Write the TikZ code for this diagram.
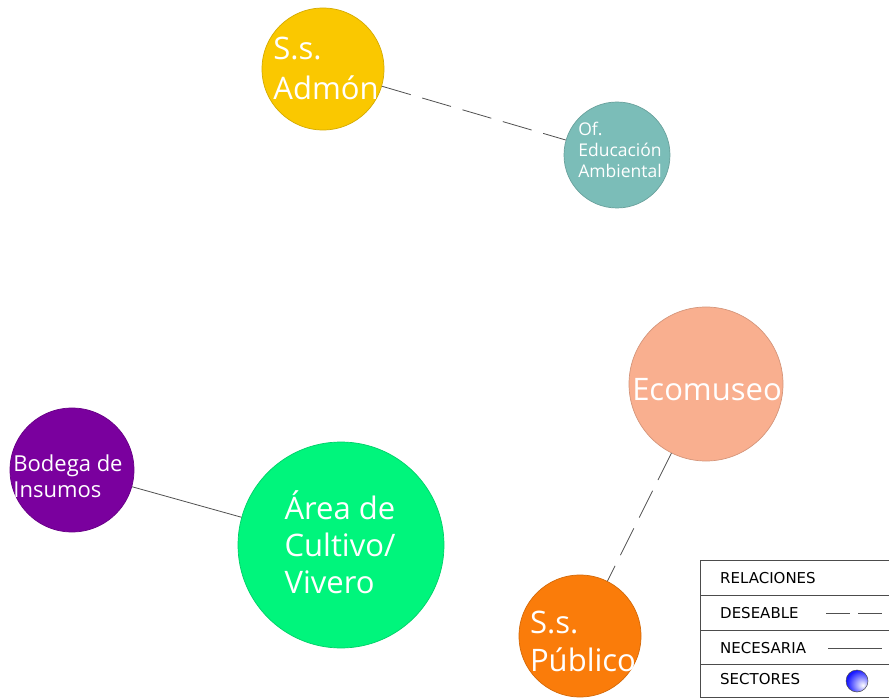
\documentclass[tikz,border=0pt]{standalone}
\usepackage{fontspec}
\setmainfont{Open Sans}
\newfontfamily\legendfont{DejaVu Sans}
\usetikzlibrary{shadings}
\definecolor{cgold}{HTML}{FAC800}
\definecolor{cteal}{HTML}{7BBDB8}
\definecolor{csalmon}{HTML}{F9AF8F}
\definecolor{cpurple}{HTML}{7A009E}
\definecolor{cgreen}{HTML}{00F57C}
\definecolor{corange}{HTML}{FA7C0A}
\definecolor{cline}{HTML}{505050}
\pgfdeclareradialshading{legendball}{\pgfpoint{14bp}{-10bp}}{color(0bp)=(white); color(12bp)=(blue!35!white); color(30bp)=(blue!90!white); color(45bp)=(blue!90!black); color(60bp)=(blue!90!black)}
\tikzset{
  sector/.style={circle, inner sep=0pt, draw=#1!85!black, line width=0.7pt, fill=#1},
  sectortext/.style={text=white, align=left, inner sep=0pt},
  conn/.style={draw=cline, line width=0.8pt},
  wish/.style={conn, dash pattern=on 30pt off 12pt},
  legendrule/.style={draw=black!70, line width=0.7pt},
  legendtext/.style={anchor=west, inner sep=0pt, font=\legendfont\fontsize{15}{17}\selectfont}
}
\begin{document}
\begin{tikzpicture}[x=1pt,y=-1pt]
\useasboundingbox (0,0) rectangle (889,700);
% sectors
\node[sector=cgold, minimum size=122pt] (admon) at (323,69) {};
\node[sectortext, font=\fontsize{31}{40}\selectfont] (admonT) at (326,68) {S.s.\\Admón};
\node[sector=cteal, minimum size=106pt] (educ) at (617,155) {};
\node[sectortext, font=\fontsize{17.5}{21}\selectfont] (educT) at (620,150) {Of.\\Educación\\Ambiental};
\node[sector=csalmon, minimum size=154pt] (eco) at (706,384) {};
\node[sectortext, font=\fontsize{31}{38}\selectfont] (ecoT) at (707,390) {Ecomuseo};
\node[sector=cpurple, minimum size=124pt] (bodega) at (72,470) {};
\node[sectortext, font=\fontsize{22}{26}\selectfont] (bodegaT) at (68,476) {Bodega de\\Insumos};
\node[sector=cgreen, minimum size=206pt] (area) at (341,545) {};
\node[sectortext, font=\fontsize{31}{37}\selectfont] (areaT) at (340,542) {Área de\\Cultivo/\\Vivero};
\node[sector=corange, minimum size=122pt] (publico) at (580,636) {};
\node[sectortext, font=\fontsize{31}{38}\selectfont] (publicoT) at (583,641) {S.s.\\Público};
% connectors
\path[wish] (admon) -- (educ);
\path[conn] (bodega) -- (area);
\path[wish] (eco) -- (publico);
% legend
\coordinate (lgA) at (700,560);
\coordinate (lgB) at (889,560);
\draw[legendrule] (lgB) -- (lgA) -- (700,697) -- (889,697);
\draw[legendrule] (700,595) -- (889,595);
\draw[legendrule] (700,630) -- (889,630);
\draw[legendrule] (700,664) -- (889,664);
\node[legendtext] (lrel) at (720,578) {RELACIONES};
\node[legendtext] (ldes) at (720,613) {DESEABLE};
\node[legendtext] (lnec) at (720,648) {NECESARIA};
\node[legendtext] (lsec) at (720,679) {SECTORES};
\coordinate (dA) at (826,613);
\coordinate (dB) at (882,613);
\draw[conn, dash pattern=on 24pt off 8pt] (dA) -- (dB);
\coordinate (nA) at (828,648);
\coordinate (nB) at (882,648);
\draw[conn] (nA) -- (nB);
\node[circle, minimum size=22pt, inner sep=0pt, draw=black!70, line width=0.5pt, shading=legendball] (lball) at (857,681) {};
\end{tikzpicture}
\end{document}
